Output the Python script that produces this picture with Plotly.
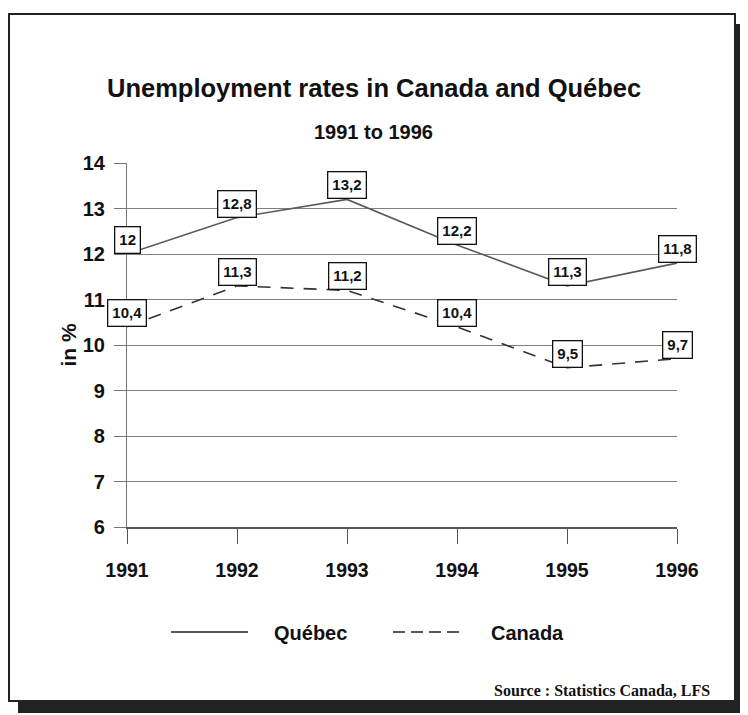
import plotly.graph_objects as go

years = [1991, 1992, 1993, 1994, 1995, 1996]
quebec = [12.0, 12.8, 13.2, 12.2, 11.3, 11.8]
canada = [10.4, 11.3, 11.2, 10.4, 9.5, 9.7]
quebec_labels = ["12", "12,8", "13,2", "12,2", "11,3", "11,8"]
canada_labels = ["10,4", "11,3", "11,2", "10,4", "9,5", "9,7"]

FONT = "Liberation Sans, Arial"

# the page body has an 8px margin, so the figure is drawn 8px smaller and shifted
OFF = 8
W, H = 748 - OFF, 715 - OFF
# plot area, given in page pixels
L, R, T, B = 127, 677, 163, 527


def px(x):
    return (x - L) / (R - L)


def py(y):
    return (B - y) / (B - T)


fig = go.Figure()

fig.add_trace(go.Scatter(
    x=years, y=quebec, mode="lines", name="Québec",
    line=dict(color="#5a5a5a", width=1.6),
    hoverinfo="x+y",
))
fig.add_trace(go.Scatter(
    x=years, y=canada, mode="lines", name="Canada",
    line=dict(color="#333333", width=1.6, dash="13px,10px"),
    hoverinfo="x+y",
))

# boxed value labels
for xs, ys, labs in [(years, quebec, quebec_labels), (years, canada, canada_labels)]:
    for x, y, t in zip(xs, ys, labs):
        fig.add_annotation(
            x=x, y=y, text="<b>%s</b>" % t, showarrow=False, yshift=14,
            font=dict(family=FONT, size=15, color="#111"),
            bgcolor="white", bordercolor="#111", borderwidth=1.3, borderpad=4,
        )

# frame with drop shadow
fig.add_shape(type="rect", xref="paper", yref="paper",
              x0=px(18), x1=px(747), y0=py(713), y1=py(24),
              fillcolor="#222", line=dict(width=0), layer="below")
fig.add_shape(type="rect", xref="paper", yref="paper",
              x0=px(9), x1=px(735), y0=py(701), y1=py(14),
              fillcolor="white", line=dict(color="#222", width=2), layer="below")

# legend drawn by hand
fig.add_shape(type="line", xref="paper", yref="paper",
              x0=px(171), x1=px(248), y0=py(632), y1=py(632),
              line=dict(color="#222", width=1.6))
fig.add_shape(type="line", xref="paper", yref="paper",
              x0=px(393), x1=px(465), y0=py(632), y1=py(632),
              line=dict(color="#222", width=1.6, dash="12px,6px"))


def text(x, y, s, size, xanchor="center", family=FONT):
    fig.add_annotation(xref="paper", yref="paper", x=px(x), y=py(y),
                       xanchor=xanchor, yanchor="middle", text="<b>%s</b>" % s,
                       showarrow=False, font=dict(family=family, size=size, color="#111"))


text(272, 633, "Québec", 20, "left")
text(489, 633, "Canada", 20, "left")
text(374, 88, "Unemployment rates in Canada and Québec", 25.5)
text(373, 132, "1991 to 1996", 20)
text(712, 690, "Source : Statistics Canada, LFS", 16, "right",
     "Liberation Serif, Times New Roman, serif")

fig.update_layout(
    width=W, height=H,
    margin=dict(l=L - OFF, r=W - (R - OFF), t=T - OFF, b=H - (B - OFF)),
    paper_bgcolor="white", plot_bgcolor="white",
    showlegend=False,
    font=dict(family=FONT, color="#111"),
)
fig.update_xaxes(
    range=[1991, 1996], tickvals=years, ticktext=["<b>%d</b>" % y for y in years],
    tickfont=dict(size=19.5), ticks="outside", ticklen=15, tickcolor="#555",
    ticklabelstandoff=10,
    showgrid=False, showline=True, linecolor="#555", linewidth=1.5, zeroline=False,
)
fig.update_yaxes(
    range=[6, 14], tickvals=list(range(6, 15)),
    ticktext=["<b>%d</b>" % v for v in range(6, 15)],
    tickfont=dict(size=20), ticks="outside", ticklen=12, tickcolor="#777",
    ticklabelstandoff=5,
    showgrid=True, gridcolor="#808080", gridwidth=1,
    showline=True, linecolor="#777", linewidth=1.2, zeroline=False,
    title=dict(text="<b>in %</b>", font=dict(size=21), standoff=0),
)

fig.write_html("out.html")
